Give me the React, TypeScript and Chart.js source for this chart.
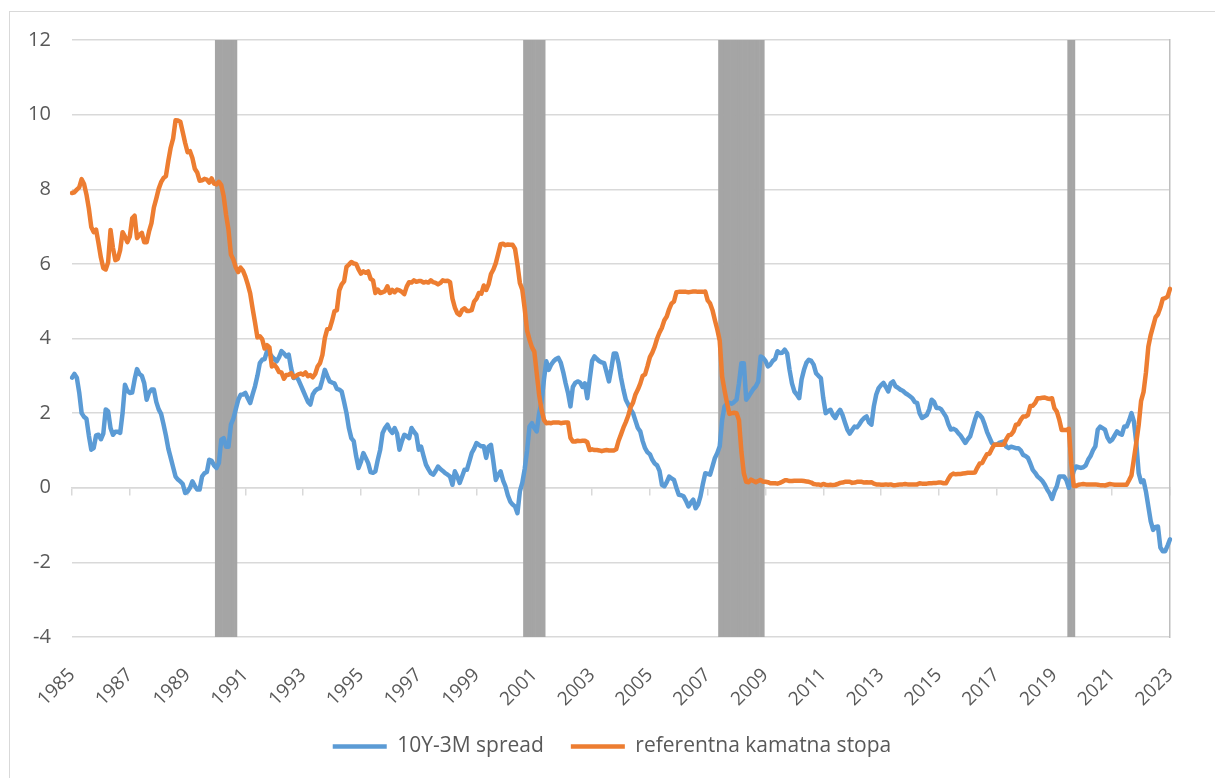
import React, { useEffect, useRef } from "react";
import { Chart, registerables } from "chart.js";

Chart.register(...registerables);

// ---- axis / category data ----
const START_YEAR = 1985;
const START_MONTH = 7; // first monthly point: July 1985
const MONTH_COUNT = 457;
const LABEL_EVERY = 24;
const Y_MIN = -4;
const Y_MAX = 12;
const Y_STEP = 2;

const tickYears = [
  "1985", "1987", "1989", "1991", "1993", "1995", "1997", "1999", "2001", "2003",
  "2005", "2007", "2009", "2011", "2013", "2015", "2017", "2019", "2021", "2023",
];

// recession periods (shaded bands)
const recessions = [
  { from: "1990-07", to: "1991-03" },
  { from: "2001-03", to: "2001-11" },
  { from: "2007-12", to: "2009-06" },
  { from: "2020-01", to: "2020-03" },
];

// ---- 10Y-3M spread (monthly) ----
const spread1980s = [
  2.95, 3.05, 2.95, 2.55, 2.0, 1.9,
  1.85, 1.4, 1.02, 1.06, 1.4, 1.42, 1.3, 1.45, 2.1, 2.05, 1.6, 1.42,
  1.5, 1.5, 1.47, 2.0, 2.76, 2.6, 2.54, 2.55, 2.9, 3.18, 3.05, 3.0,
  2.8, 2.36, 2.55, 2.63, 2.63, 2.3, 2.1, 1.98, 1.7, 1.4, 1.05, 0.8,
  0.55, 0.3, 0.22, 0.17, 0.1, -0.14, -0.1, 0.0, 0.17, 0.05, -0.05, -0.05,
];
const spread1990s = [
  0.3, 0.39, 0.42, 0.75, 0.72, 0.6, 0.53, 0.66, 1.29, 1.33, 1.1, 1.1,
  1.69, 1.85, 2.1, 2.35, 2.49, 2.5, 2.54, 2.4, 2.27, 2.5, 2.72, 3.0,
  3.34, 3.43, 3.45, 3.66, 3.6, 3.52, 3.45, 3.39, 3.5, 3.66, 3.6, 3.52,
  3.57, 3.2, 2.94, 2.98, 2.9, 2.75, 2.6, 2.45, 2.3, 2.23, 2.5, 2.6,
  2.65, 2.67, 2.9, 3.16, 3.0, 2.85, 2.82, 2.8, 2.65, 2.63, 2.58, 2.3,
  2.0, 1.6, 1.33, 1.25, 0.85, 0.53, 0.7, 0.93, 0.8, 0.66, 0.42, 0.4,
  0.44, 0.75, 1.02, 1.47, 1.6, 1.69, 1.55, 1.47, 1.6, 1.45, 1.02, 1.25,
  1.42, 1.38, 1.33, 1.6, 1.5, 1.42, 1.02, 1.1, 0.85, 0.62, 0.5, 0.39,
  0.35, 0.45, 0.57, 0.5, 0.45, 0.39, 0.35, 0.3, 0.08, 0.44, 0.3, 0.13,
  0.3, 0.48, 0.48, 0.7, 0.93, 1.05, 1.2, 1.15, 1.11, 1.11, 0.8, 1.1,
];
const spread2000s = [
  1.15, 0.7, 0.21, 0.35, 0.44, 0.2, 0.04, -0.2, -0.37, -0.45, -0.5, -0.68,
  -0.1, 0.13, 0.5, 1.0, 1.64, 1.73, 1.6, 1.51, 2.0, 2.3, 2.9, 3.39,
  3.16, 3.3, 3.39, 3.45, 3.48, 3.35, 3.1, 2.8, 2.54, 2.18, 2.7, 2.81,
  2.85, 2.82, 2.7, 2.8, 2.4, 2.9, 3.4, 3.52, 3.45, 3.39, 3.36, 3.34,
  3.1, 2.85, 3.2, 3.6, 3.6, 3.34, 2.95, 2.63, 2.36, 2.23, 2.1, 2.0,
  1.8, 1.6, 1.51, 1.25, 1.06, 0.95, 0.9, 0.75, 0.65, 0.6, 0.45, 0.08,
  0.04, 0.15, 0.3, 0.25, 0.21, 0.0, -0.19, -0.2, -0.23, -0.35, -0.5, -0.4,
  -0.32, -0.55, -0.45, -0.23, 0.1, 0.39, 0.37, 0.35, 0.57, 0.8, 0.93, 1.11,
  1.82, 2.18, 2.25, 2.28, 2.25, 2.3, 2.36, 2.8, 3.34, 3.34, 2.36, 2.45,
  2.55, 2.65, 2.72, 2.85, 3.52, 3.48, 3.4, 3.25, 3.3, 3.4, 3.45, 3.66,
];
const spread2010s = [
  3.61, 3.62, 3.7, 3.6, 3.16, 2.8, 2.58, 2.5, 2.4, 2.9, 3.16, 3.35,
  3.43, 3.4, 3.3, 3.07, 3.0, 2.94, 2.4, 2.0, 2.05, 2.09, 1.95, 1.87,
  2.0, 2.09, 1.95, 1.75, 1.56, 1.45, 1.55, 1.64, 1.62, 1.7, 1.8, 1.87,
  1.91, 1.75, 1.69, 2.18, 2.5, 2.67, 2.75, 2.81, 2.7, 2.58, 2.8, 2.85,
  2.72, 2.68, 2.63, 2.6, 2.54, 2.5, 2.45, 2.4, 2.3, 2.27, 2.0, 1.87,
  1.91, 1.95, 2.1, 2.36, 2.3, 2.14, 2.14, 2.1, 2.0, 1.9, 1.7, 1.56,
  1.58, 1.55, 1.47, 1.4, 1.3, 1.2, 1.3, 1.38, 1.6, 1.82, 2.0, 1.95,
  1.87, 1.7, 1.5, 1.35, 1.2, 1.15, 1.15, 1.2, 1.22, 1.24, 1.1, 1.06,
  1.1, 1.08, 1.06, 1.06, 1.0, 0.88, 0.85, 0.8, 0.65, 0.48, 0.4, 0.3,
  0.25, 0.18, 0.08, -0.05, -0.15, -0.3, -0.1, 0.04, 0.3, 0.3, 0.3, 0.2,
];
const spread2020s = [
  0.0, 0.21, 0.45, 0.57, 0.55, 0.53, 0.55, 0.6, 0.75, 0.85, 1.0, 1.11,
  1.56, 1.64, 1.6, 1.56, 1.35, 1.24, 1.29, 1.4, 1.51, 1.45, 1.42, 1.64,
  1.64, 1.8, 2.0, 1.78, 1.2, 0.39, 0.15, 0.2, -0.1, -0.5, -0.9, -1.13,
  -1.05, -1.04, -1.6, -1.7, -1.7, -1.55, -1.38,
];

// ---- referentna kamatna stopa (monthly) ----
const rate1980s = [
  7.9, 7.92, 7.99, 8.05, 8.27,
  8.14, 7.86, 7.48, 6.99, 6.85, 6.92, 6.56, 6.17, 5.89, 5.85, 6.04, 6.91,
  6.43, 6.1, 6.13, 6.37, 6.85, 6.73, 6.58, 6.73, 7.22, 7.29, 6.69, 6.77,
  6.83, 6.58, 6.58, 6.87, 7.09, 7.51, 7.75, 8.01, 8.19, 8.3, 8.35, 8.76,
  9.12, 9.36, 9.85, 9.84, 9.81, 9.53, 9.24, 8.99, 9.02, 8.84, 8.55, 8.45,
  8.23,
];
const rate1990s = [
  8.24, 8.28, 8.26, 8.18, 8.29, 8.15, 8.13, 8.2, 8.11, 7.81, 7.31,
  6.91, 6.25, 6.12, 5.91, 5.78, 5.9, 5.82, 5.66, 5.45, 5.21, 4.81, 4.43,
  4.03, 4.06, 3.98, 3.73, 3.82, 3.76, 3.25, 3.3, 3.22, 3.1, 3.09, 2.92,
  3.02, 3.03, 3.07, 2.96, 3.0, 3.04, 3.06, 3.03, 3.09, 2.99, 3.02, 2.96,
  3.05, 3.25, 3.34, 3.56, 4.01, 4.25, 4.26, 4.47, 4.73, 4.76, 5.29, 5.45,
  5.53, 5.92, 5.98, 6.05, 6.01, 6.0, 5.85, 5.74, 5.8, 5.76, 5.8, 5.6,
  5.56, 5.22, 5.31, 5.22, 5.24, 5.27, 5.4, 5.22, 5.3, 5.24, 5.31, 5.29,
  5.25, 5.19, 5.39, 5.51, 5.5, 5.56, 5.52, 5.54, 5.54, 5.5, 5.52, 5.5,
  5.56, 5.51, 5.49, 5.45, 5.49, 5.56, 5.54, 5.55, 5.51, 5.07, 4.83, 4.68,
  4.63, 4.76, 4.81, 4.74, 4.74, 4.76, 4.99, 5.07, 5.22, 5.2, 5.42, 5.3,
  5.45,
];
const rate2000s = [
  5.73, 5.85, 6.02, 6.27, 6.53, 6.54, 6.5, 6.52, 6.51, 6.51, 6.4,
  5.98, 5.49, 5.31, 4.8, 4.21, 3.97, 3.77, 3.65, 3.07, 2.49, 2.09, 1.82,
  1.73, 1.74, 1.73, 1.75, 1.75, 1.75, 1.73, 1.74, 1.75, 1.75, 1.34, 1.24,
  1.24, 1.26, 1.25, 1.26, 1.26, 1.22, 1.01, 1.03, 1.01, 1.01, 1.0, 0.98,
  1.0, 1.01, 1.0, 1.0, 1.0, 1.03, 1.26, 1.43, 1.61, 1.76, 1.93, 2.16,
  2.28, 2.5, 2.63, 2.79, 3.0, 3.04, 3.26, 3.5, 3.62, 3.78, 4.0, 4.16,
  4.29, 4.49, 4.59, 4.79, 4.94, 4.99, 5.24, 5.25, 5.25, 5.25, 5.25, 5.24,
  5.25, 5.26, 5.26, 5.25, 5.25, 5.25, 5.26, 5.02, 4.94, 4.76, 4.49, 4.24,
  3.94, 2.98, 2.61, 2.28, 1.98, 2.0, 2.01, 2.0, 1.81, 0.97, 0.39, 0.16,
  0.15, 0.22, 0.18, 0.15, 0.18, 0.21, 0.16, 0.16, 0.15, 0.12, 0.12, 0.12,
  0.11,
];
const rate2010s = [
  0.13, 0.16, 0.2, 0.2, 0.18, 0.18, 0.19, 0.19, 0.19, 0.19, 0.18,
  0.17, 0.16, 0.14, 0.1, 0.09, 0.09, 0.07, 0.1, 0.08, 0.07, 0.08, 0.07,
  0.08, 0.1, 0.13, 0.14, 0.16, 0.16, 0.16, 0.13, 0.14, 0.16, 0.16, 0.16,
  0.14, 0.15, 0.14, 0.15, 0.11, 0.09, 0.09, 0.08, 0.08, 0.09, 0.08, 0.09,
  0.07, 0.07, 0.08, 0.09, 0.09, 0.1, 0.09, 0.09, 0.09, 0.09, 0.09, 0.12,
  0.11, 0.11, 0.11, 0.12, 0.12, 0.13, 0.13, 0.14, 0.14, 0.12, 0.12, 0.24,
  0.34, 0.38, 0.36, 0.37, 0.37, 0.38, 0.39, 0.4, 0.4, 0.4, 0.41, 0.54,
  0.65, 0.66, 0.79, 0.9, 0.91, 1.04, 1.15, 1.16, 1.15, 1.15, 1.16, 1.3,
  1.41, 1.42, 1.51, 1.69, 1.7, 1.82, 1.91, 1.91, 1.95, 2.19, 2.2, 2.27,
  2.4, 2.4, 2.41, 2.42, 2.39, 2.38, 2.4, 2.13, 2.04, 1.83, 1.55, 1.55,
  1.55,
];
const rate2020s = [
  1.58, 0.65, 0.05, 0.05, 0.08, 0.09, 0.1, 0.09, 0.09, 0.09, 0.09,
  0.09, 0.08, 0.07, 0.07, 0.06, 0.08, 0.1, 0.09, 0.08, 0.08, 0.08, 0.08,
  0.08, 0.08, 0.2, 0.33, 0.77, 1.21, 1.68, 2.33, 2.56, 3.08, 3.78, 4.1,
  4.33, 4.57, 4.65, 4.83, 5.06, 5.08, 5.12, 5.33,
];

const spread = [...spread1980s, ...spread1990s, ...spread2000s, ...spread2010s, ...spread2020s];
const rate = [...rate1980s, ...rate1990s, ...rate2000s, ...rate2010s, ...rate2020s];

const categories: string[] = [];
for (let k = 0; k < MONTH_COUNT; k++) {
  const m = START_MONTH - 1 + k;
  const y = START_YEAR + Math.floor(m / 12);
  const mm = (m % 12) + 1;
  categories.push(`${y}-${mm < 10 ? "0" + mm : mm}`);
}

const bands = categories.map((c) =>
  recessions.some((r) => c >= r.from && c <= r.to) ? [Y_MIN, Y_MAX] : null
);

const FONT = "'Open Sans', 'Noto Sans', sans-serif";
const GRID = "#d9d9d9";
const TEXT = "#595959";

export default function App() {
  const ref = useRef<HTMLCanvasElement>(null);

  useEffect(() => {
    const canvas = ref.current;
    if (!canvas) return;
    const chart = new Chart(canvas, {
      type: "line",
      data: {
        labels: categories,
        datasets: [
          {
            type: "line",
            label: "10Y-3M spread",
            data: spread,
            borderColor: "#5b9bd5",
            backgroundColor: "#5b9bd5",
            borderWidth: 4.5,
            borderCapStyle: "round",
            borderJoinStyle: "round",
            pointRadius: 0,
            tension: 0,
            xAxisID: "x",
            yAxisID: "y",
            order: 2,
          },
          {
            type: "line",
            label: "referentna kamatna stopa",
            data: rate,
            borderColor: "#ed7d31",
            backgroundColor: "#ed7d31",
            borderWidth: 4.5,
            borderCapStyle: "round",
            borderJoinStyle: "round",
            pointRadius: 0,
            tension: 0,
            xAxisID: "x",
            yAxisID: "y",
            order: 1,
          },
          {
            type: "bar",
            label: "recesija",
            data: bands as any,
            backgroundColor: "#a5a5a5",
            borderWidth: 0,
            barPercentage: 1,
            categoryPercentage: 1,
            xAxisID: "x",
            yAxisID: "y",
            order: 3,
          },
        ],
      },
      options: {
        animation: false,
        responsive: false,
        devicePixelRatio: 1,
        events: [],
        layout: { padding: { left: 54, right: 45, top: 40, bottom: 11 } },
        scales: {
          x: {
            type: "category",
            position: { y: 0 } as any,
            offset: false,
            grid: {
              display: true,
              offset: false,
              drawOnChartArea: false,
              drawTicks: true,
              tickLength: 7,
              lineWidth: 1.5,
              color: (ctx: any) => (ctx.index % LABEL_EVERY === 0 ? GRID : "rgba(0,0,0,0)"),
            },
            border: { display: true, color: GRID, width: 1.5 },
            ticks: { display: false, autoSkip: false },
          },
          x2: {
            type: "category",
            position: "bottom",
            offset: false,
            grid: { display: false, drawTicks: false, offset: false },
            border: { display: false },
            ticks: {
              autoSkip: false,
              maxRotation: 45,
              minRotation: 45,
              padding: 27,
              color: TEXT,
              font: { family: FONT, size: 19 },
              callback: (_v: any, i: number) =>
                i % LABEL_EVERY === 0 ? tickYears[i / LABEL_EVERY] : "",
            },
            afterFit: (s: any) => {
              s.height = 72;
            },
          },
          y: {
            type: "linear",
            position: "left",
            min: Y_MIN,
            max: Y_MAX,
            ticks: {
              stepSize: Y_STEP,
              mirror: true,
              crossAlign: "far",
              padding: -44,
              color: TEXT,
              font: { family: FONT, size: 20 },
            },
            grid: { color: GRID, lineWidth: 1.5, drawTicks: false },
            border: { display: false },
            afterFit: (s: any) => {
              s.width = 18;
            },
          },
          y2: {
            type: "linear",
            position: "right",
            grid: { display: false, drawTicks: false },
            ticks: { display: false },
            border: { display: true, color: "#bfbfbf", width: 1.5 },
            afterFit: (s: any) => {
              s.width = 0;
            },
          },
        },
        plugins: {
          tooltip: { enabled: false },
          legend: {
            position: "bottom",
            labels: {
              filter: (item: any) => item.datasetIndex < 2,
              sort: (a: any, b: any) => a.datasetIndex - b.datasetIndex,
              usePointStyle: true,
              pointStyle: "line",
              pointStyleWidth: 54,
              boxWidth: 54,
              color: TEXT,
              font: { family: FONT, size: 21 },
              padding: 27,
            },
          },
        },
      } as any,
    });
    return () => chart.destroy();
  }, []);

  return (
    <div
      style={{
        position: "fixed",
        left: 0,
        top: 0,
        width: 1215,
        height: 778,
        overflow: "hidden",
        background: "#fff",
      }}
    >
      <div
        style={{
          position: "absolute",
          left: 9,
          top: 11,
          width: 1300,
          height: 900,
          border: "1px solid #d9d9d9",
          boxSizing: "border-box",
        }}
      />
      <canvas
        ref={ref}
        width={1215}
        height={778}
        style={{ position: "absolute", left: 0, top: 0, width: 1215, height: 778 }}
      />
    </div>
  );
}
